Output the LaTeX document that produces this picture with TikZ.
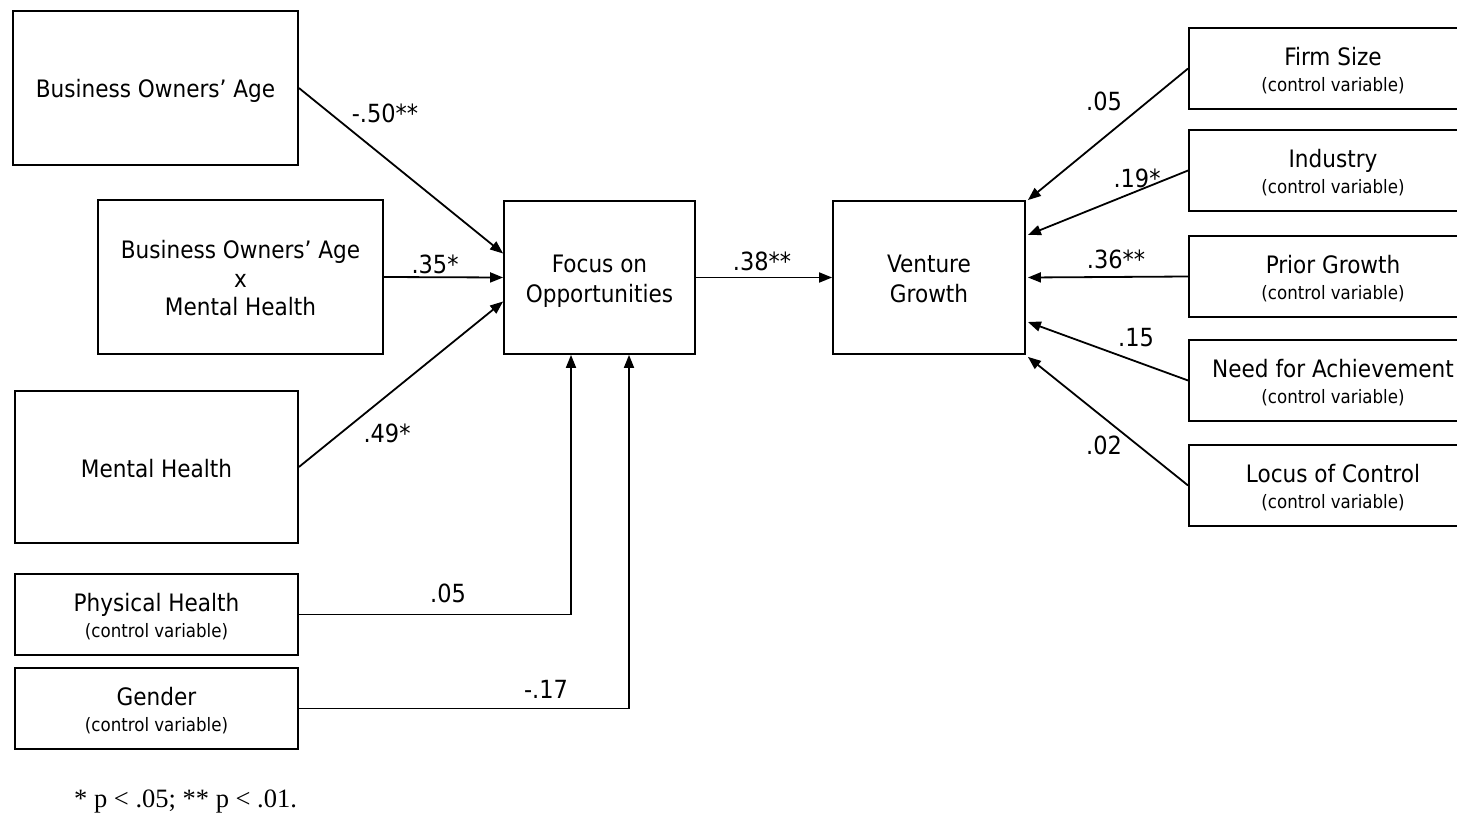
\documentclass[tikz,border=0pt]{standalone}
\usepackage{fontspec}
\setmainfont{DejaVu Sans Condensed}
\newfontfamily\notefont{Liberation Serif}
\usetikzlibrary{arrows.meta}
\tikzset{
  box/.style={draw, line width=1.8pt, inner sep=0pt, align=center, font=\fontsize{24}{28.5}\selectfont},
  arr/.style={line width=1.8pt, -{Triangle[length=13pt,width=10pt]}},
  lbl/.style={font=\fontsize{25}{28}\selectfont, inner sep=0pt},
}
\newcommand{\tp}{\rule{0pt}{26pt}}
\newcommand{\bt}{\rule[-6pt]{0pt}{6pt}}
\newcommand{\ctrl}[1]{\tp#1\\[-3pt]{\fontsize{18.5}{21}\selectfont (control variable)\bt}}
\begin{document}
\begin{tikzpicture}[x=1pt,y=-1pt]
\useasboundingbox (0,0) rectangle (1457,816);
\clip (0,0) rectangle (1457,816);
% left boxes
\node[box, minimum width=285pt, minimum height=154pt] (age) at (155.5,88) {\tp Business Owners’ Age\bt};
\node[box, minimum width=285pt, minimum height=154pt] (inter) at (240.5,277) {\tp Business Owners’ Age\\x\\Mental Health\bt};
\node[box, minimum width=283pt, minimum height=152pt] (mh) at (156.5,467) {\tp Mental Health\bt};
\node[box, minimum width=283pt, minimum height=81pt] (ph) at (156.5,614.5) {\ctrl{Physical Health}};
\node[box, minimum width=283pt, minimum height=81pt] (gen) at (156.5,708.5) {\ctrl{Gender}};
% middle
\node[box, minimum width=191pt, minimum height=153pt, font=\fontsize{24}{30}\selectfont] (foc) at (599.5,277.5) {\tp Focus on\\Opportunities\bt};
\node[box, minimum width=192pt, minimum height=153pt, font=\fontsize{24}{30}\selectfont] (vg) at (929,277.5) {\tp Venture\\Growth\bt};
% right boxes
\node[box, minimum width=288pt, minimum height=81pt] (firm) at (1333,68.5) {\ctrl{Firm Size}};
\node[box, minimum width=288pt, minimum height=81pt] (ind) at (1333,170.5) {\ctrl{Industry}};
\node[box, minimum width=288pt, minimum height=81pt] (pg) at (1333,276.5) {\ctrl{Prior Growth}};
\node[box, minimum width=288pt, minimum height=81pt] (nfa) at (1333,380.5) {\ctrl{Need for Achievement}};
\node[box, minimum width=288pt, minimum height=81pt] (loc) at (1333,485.5) {\ctrl{Locus of Control}};
% arrows left
\draw[arr] (age.east) -- ([yshift=24pt]foc.west);
\draw[arr] (inter.east) -- (foc.west);
\draw[arr] (mh.east) -- ([yshift=-24pt]foc.west);
\draw[arr] (ph.east) -| ([xshift=-28.5pt]foc.south);
\draw[arr] (gen.east) -| ([xshift=29.5pt]foc.south);
\draw[arr] (foc.east) -- (vg.west);
% arrows right
\draw[arr] (firm.west) -- ([xshift=2pt]vg.north east);
\draw[arr] (ind.west) -- ([xshift=2pt,yshift=42.5pt]vg.east);
\draw[arr] (pg.west) -- ([xshift=2pt]vg.east);
\draw[arr] (nfa.west) -- ([xshift=2pt,yshift=-44.5pt]vg.east);
\draw[arr] (loc.west) -- ([xshift=2pt,yshift=-2pt]vg.south east);
% labels
\node[lbl] (l1) at (385,113) {-.50**};
\node[lbl] (l2) at (435,264) {.35*};
\node[lbl] (l3) at (387,433) {.49*};
\node[lbl] (l4) at (448,593) {.05};
\node[lbl] (l5) at (546,689) {-.17};
\node[lbl] (l6) at (762,261) {.38**};
\node[lbl] (l7) at (1104,101) {.05};
\node[lbl] (l8) at (1137,178) {.19*};
\node[lbl] (l9) at (1116,259) {.36**};
\node[lbl] (l10) at (1136,338) {.15};
\node[lbl] (l11) at (1104,445) {.02};
% note
\node[anchor=west, inner sep=0pt, font=\notefont\fontsize{26.5}{30}\selectfont] (note) at (74,802) {* p < .05; ** p < .01.};
\end{tikzpicture}
\end{document}
